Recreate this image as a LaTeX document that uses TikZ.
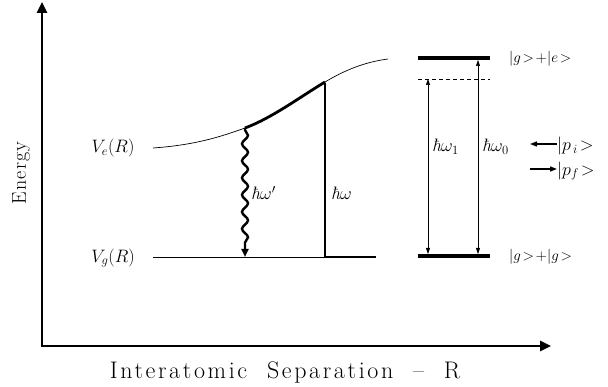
\RequirePackage{fix-cm}
\documentclass[tikz,border=0pt]{standalone}
\usepackage{fontspec}
\newfontfamily\spacedfont[LetterSpace=11]{Latin Modern Roman}
\newfontfamily\energyfont[LetterSpace=6]{Latin Modern Roman}
\usetikzlibrary{arrows.meta,decorations.pathmorphing}
\newcommand{\hb}{{\itshape ħ}}
\begin{document}
\begin{tikzpicture}[x=1pt,y=-1pt,
  axis/.style={line width=2.6pt,-{Triangle[length=11pt,width=10pt]}},
  thin/.style={line width=0.7pt},
  thick3/.style={line width=2.8pt},
  level/.style={line width=3.6pt},
  trans/.style={line width=0.5pt,{Triangle[length=6pt,width=4pt]}-{Triangle[length=6pt,width=4pt]}},
  mom/.style={line width=1.3pt,-{Triangle[length=7pt,width=5pt]}},
  lab/.style={inner sep=0pt,font=\fontsize{18}{20}\selectfont},
  ket/.style={inner sep=0pt,font=\fontsize{15}{17}\selectfont},
  ]
\useasboundingbox (0,0) rectangle (608,387);
% axes
\coordinate (O) at (42,346);
\coordinate (Ytop) at (42,2);
\coordinate (Xend) at (551,346);
\draw[axis] (O) -- (Ytop);
\draw[axis] ([xshift=-1.3pt]O) -- (Xend);
\node[rotate=90,inner sep=0pt,font=\fontsize{20}{22}\energyfont] (energy) at (21,173) {Energy};
\node[inner sep=0pt,font=\fontsize{24}{26}\spacedfont] (sep) at (285,372) {Interatomic\ \ Separation\ \ –\ \ R};
% potential curves
\coordinate (e0) at (153,148);
\coordinate (e1) at (245,128);
\coordinate (e2) at (325,82);
\coordinate (e3) at (388,59);
\draw[thin] (e0) .. controls (195,145) and (220,137) .. (e1);
\draw[thick3] (e1) .. controls (272,118) and (300,97) .. (e2);
\draw[thin] (e2) .. controls (345,70) and (365,62) .. (e3);
\coordinate (g0) at (153,257);
\coordinate (g1) at (245,257);
\coordinate (g2) at (325,257);
\coordinate (g3) at (376,257);
\draw[thin] (g0) -- (g2);
\draw[thick3] ([xshift=-1.4pt]g2) -- (g3);
\draw[thick3] ([yshift=-1.4pt]e2) -- (g2);
\draw[line width=2.4pt,-{Triangle[length=8pt,width=7pt]},
  decorate,decoration={snake,segment length=17pt,amplitude=3pt,post length=9pt,pre length=2pt}] (e1) -- (g1);
\node[lab] (Ve) at (113,148) {$V_{e}(R)$};
\node[lab] (Vg) at (113,258) {$V_{g}(R)$};
\node[lab,anchor=west] (hwp) at (251,193) {\hb$\omega'$};
\node[lab,anchor=west] (hw) at (331,193) {\hb$\omega$};
% right panel
\coordinate (tl) at (418,58);
\coordinate (tr) at (490,58);
\coordinate (dl) at (418,79);
\coordinate (dr) at (490,79);
\coordinate (bl) at (418,256);
\coordinate (br) at (490,256);
\draw[level] (tl) -- (tr);
\draw[level] (bl) -- (br);
\draw[thin,line width=0.5pt,dash pattern=on 4pt off 3pt] (dl) -- (dr);
\coordinate (a1t) at (428,79);
\coordinate (a1b) at (428,254);
\coordinate (a0t) at (478,60);
\coordinate (a0b) at (478,254);
\draw[trans] (a1b) -- (a1t);
\draw[trans] (a0b) -- (a0t);
\node[lab,anchor=west] (hw1) at (432,147) {\hb$\omega_{1}$};
\node[lab,anchor=west] (hw0) at (482,147) {\hb$\omega_{0}$};
\node[ket,anchor=west] (ge) at (509,59) {$|g\!>\!+|e\!>$};
\node[ket,anchor=west] (gg) at (509,257) {$|g\!>\!+|g\!>$};
\node[lab,anchor=west] (pi) at (557,146) {$|p_{\,i}\!>$};
\node[lab,anchor=west] (pf) at (557,171) {$|p_{f}\!>$};
\coordinate (pis) at (530,144);
\coordinate (pfs) at (530,169);
\draw[mom] (pi.west |- pis) -- (pis);
\draw[mom] (pfs) -- (pf.west |- pfs);
\end{tikzpicture}
\end{document}
